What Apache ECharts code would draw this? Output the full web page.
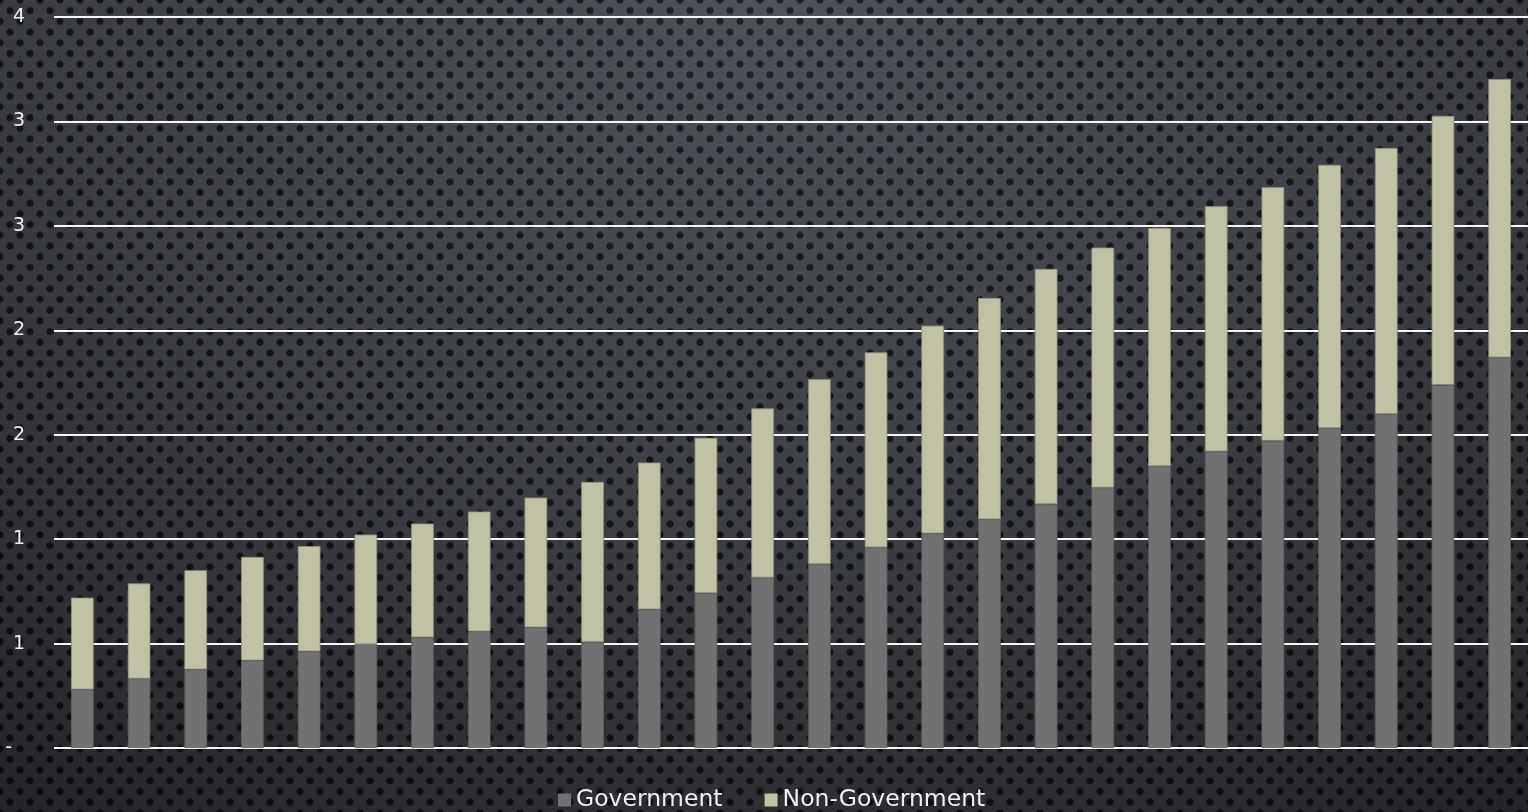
<!DOCTYPE html>
<html>
<head>
<meta charset="utf-8">
<script src="https://cdn.jsdelivr.net/npm/echarts@6/dist/echarts.min.js"></script>
<style>
  html, body { margin: 0; padding: 0; width: 1528px; height: 812px; overflow: hidden; }
  body {
    /* perforated dark metal backdrop with a soft top-centre highlight */
    background:
      radial-gradient(ellipse 85% 120% at 50% 0%, rgba(255,255,255,0.04) 0%, rgba(0,0,0,0.12) 45%, rgba(0,0,0,0.5) 100%) 0 0 / 100% 100% no-repeat,
      radial-gradient(circle at 50% 50%, #17191d 0 3.1px, rgba(23,25,29,0) 4px) 0 0 / 20px 21.4px,
      radial-gradient(circle at 50% 50%, #17191d 0 3.1px, rgba(23,25,29,0) 4px) 10px 10.7px / 20px 21.4px,
      #484b51;
  }
  #chart { width: 1528px; height: 812px; }
</style>
</head>
<body>
<div id="chart"></div>
<script>
// Categories (no labels are shown on the category axis)
const categories = ['1','2','3','4','5','6','7','8','9','10','11','12','13',
                    '14','15','16','17','18','19','20','21','22','23','24','25','26'];

// Government share of each stacked bar
const government = [0.280, 0.332, 0.376, 0.419, 0.463, 0.498, 0.530, 0.558, 0.578, 0.507,
                    0.664, 0.741, 0.816, 0.880, 0.961, 1.027, 1.095, 1.167, 1.247, 1.349,
                    1.420, 1.471, 1.531, 1.599, 1.738, 1.870];

// Non-Government share stacked on top
const nonGovernment = [0.440, 0.456, 0.475, 0.496, 0.504, 0.524, 0.545, 0.574, 0.621, 0.767,
                       0.703, 0.744, 0.810, 0.886, 0.933, 0.995, 1.060, 1.127, 1.149, 1.141,
                       1.174, 1.214, 1.261, 1.274, 1.289, 1.333];

// Value-axis tick labels, one per 0.5 step from 0 to 3.5 (whole-number display)
const tickLabels = ['-', '1', '1', '2', '2', '3', '3', '4'];

const FONT = "'Century Gothic', 'DejaVu Sans', sans-serif";

const chart = echarts.init(document.getElementById('chart'), null, { renderer: 'canvas' });

chart.setOption({
  backgroundColor: 'transparent',
  animation: false,
  grid: { left: 54, right: 0, top: 17, bottom: 64, containLabel: false },
  legend: {
    data: ['Government', 'Non-Government'],
    left: 558,
    top: 787,
    padding: 0,
    icon: 'rect',
    itemWidth: 13,
    itemHeight: 13,
    itemGap: 42,
    itemStyle: { borderWidth: 0 },
    textStyle: { color: '#f0f0f0', fontSize: 23.5, fontFamily: FONT, lineHeight: 26 }
  },
  xAxis: {
    type: 'category',
    data: categories,
    axisLine: { show: false },
    axisTick: { show: false },
    axisLabel: { show: false },
    splitLine: { show: false }
  },
  yAxis: {
    type: 'value',
    min: 0,
    max: 3.5,
    interval: 0.5,
    axisLine: { show: false },
    axisTick: { show: false },
    splitLine: { show: true, lineStyle: { color: '#f4f4f4', width: 2 } },
    axisLabel: {
      margin: 29,
      color: '#f0f0f0',
      fontSize: 19,
      fontFamily: FONT,
      formatter: function (v) {
        const label = tickLabels[Math.round(v / 0.5)];
        return label === '-' ? '{dash|-}' : label;
      },
      rich: {
        dash: { color: '#f0f0f0', fontSize: 19, fontFamily: FONT, padding: [0, 13, 0, 0] }
      }
    }
  },
  series: [
    {
      name: 'Government',
      type: 'bar',
      stack: 'total',
      barWidth: '40%',
      data: government,
      itemStyle: { color: '#717171', borderColor: '#5e5e5e', borderWidth: 0.8 }
    },
    {
      name: 'Non-Government',
      type: 'bar',
      stack: 'total',
      barWidth: '40%',
      data: nonGovernment,
      itemStyle: { color: '#c1c1a6', borderColor: '#8f8f7b', borderWidth: 0.8 }
    }
  ]
});
</script>
</body>
</html>
